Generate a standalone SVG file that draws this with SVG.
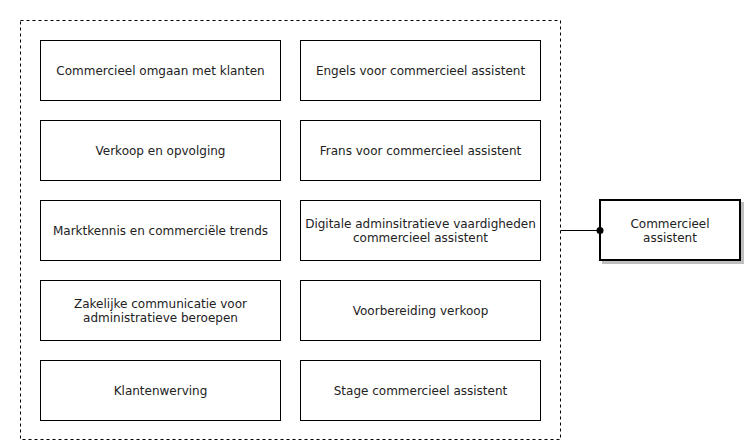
<svg xmlns="http://www.w3.org/2000/svg" width="748" height="445" viewBox="0 0 748 445">
<style>
.box{fill:#fff;stroke:#000;stroke-width:1}
.t{font-family:"DejaVu Sans",Verdana,sans-serif;font-size:12px;fill:#222;text-anchor:middle}
</style>
<defs>
<filter id="sh" x="-10%" y="-10%" width="130%" height="140%">
<feOffset dx="3" dy="3" in="SourceAlpha" result="o"/>
<feColorMatrix in="o" type="matrix" values="0 0 0 0 0  0 0 0 0 0  0 0 0 0 0  0 0 0 0.25 0" result="c"/>
<feMerge><feMergeNode in="c"/><feMergeNode in="SourceGraphic"/></feMerge>
</filter>
</defs>
<rect width="748" height="445" fill="#fff"/>
<g id="container"><rect x="20.5" y="20.5" width="540" height="419" fill="none" stroke="#000" stroke-dasharray="3,3"/></g>
<g id="n1"><rect class="box" x="40.5" y="40.5" width="240" height="60"/><text class="t" x="160.5" y="74.5">Commercieel omgaan met klanten</text></g>
<g id="n2"><rect class="box" x="300.5" y="40.5" width="240" height="60"/><text class="t" x="420.5" y="74.5">Engels voor commercieel assistent</text></g>
<g id="n3"><rect class="box" x="40.5" y="120.5" width="240" height="60"/><text class="t" x="160.5" y="154.5">Verkoop en opvolging</text></g>
<g id="n4"><rect class="box" x="300.5" y="120.5" width="240" height="60"/><text class="t" x="420.5" y="154.5">Frans voor commercieel assistent</text></g>
<g id="n5"><rect class="box" x="40.5" y="200.5" width="240" height="60"/><text class="t" x="160.5" y="234.5">Marktkennis en commerciële trends</text></g>
<g id="n6"><rect class="box" x="300.5" y="200.5" width="240" height="60"/><text class="t" x="420.5" y="227.5">Digitale adminsitratieve vaardigheden</text><text class="t" x="420.5" y="241.5">commercieel assistent</text></g>
<g id="n7"><rect class="box" x="40.5" y="280.5" width="240" height="60"/><text class="t" x="160.5" y="307.5">Zakelijke communicatie voor</text><text class="t" x="160.5" y="321.5">administratieve beroepen</text></g>
<g id="n8"><rect class="box" x="300.5" y="280.5" width="240" height="60"/><text class="t" x="420.5" y="314.5">Voorbereiding verkoop</text></g>
<g id="n9"><rect class="box" x="40.5" y="360.5" width="240" height="60"/><text class="t" x="160.5" y="394.5">Klantenwerving</text></g>
<g id="n10"><rect class="box" x="300.5" y="360.5" width="240" height="60"/><text class="t" x="420.5" y="394.5">Stage commercieel assistent</text></g>
<g id="target"><rect x="600" y="200" width="140" height="60" fill="#fff" stroke="#000" stroke-width="2" filter="url(#sh)"/><text class="t" x="670" y="227.5">Commercieel</text><text class="t" x="670" y="241.5">assistent</text></g>
<g id="connectors">
<line x1="560.5" y1="230.5" x2="600" y2="230.5" stroke="#000"/>
<circle cx="600" cy="230.5" r="3.5" fill="#000"/>
</g>
</svg>
